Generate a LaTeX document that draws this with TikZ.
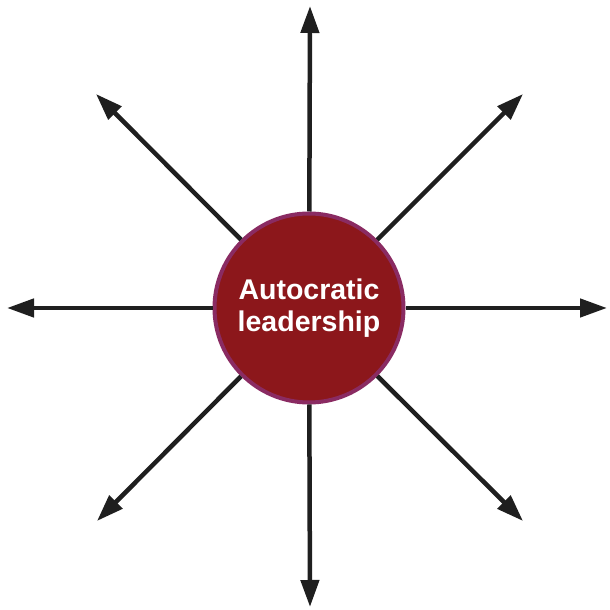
\documentclass[tikz,border=0pt]{standalone}
\usepackage{fontspec}
\setmainfont{Liberation Sans}
\usetikzlibrary{arrows.meta}
\definecolor{leadred}{HTML}{8C171B}
\definecolor{leadrim}{HTML}{8A2B62}
\tikzset{
  ray/.style={line width=4.5pt,color=black!88,-{Triangle[length=27pt,width=18pt]}},
  hub/.style={circle,draw=leadrim,line width=4pt,fill=leadred,minimum size=189pt,
    text=white,font=\fontsize{28.5}{32}\selectfont\bfseries,align=center,inner sep=0pt}
}
\begin{document}
\begin{tikzpicture}[x=1pt,y=1pt]
\useasboundingbox (0,0) rectangle (610,610);
% end points of the rays
\coordinate (n) at (310,604);
\coordinate (s) at (310,3);
\coordinate (w) at (7,302);
\coordinate (e) at (607,302);
\coordinate (nw) at (96,516);
\coordinate (ne) at (523,516);
\coordinate (sw) at (97,89);
\coordinate (se) at (523,89);
\node[hub] (lead) at (309,302) {Autocratic\\leadership};
\foreach \t in {n,s,w,e,nw,ne,sw,se}
  \draw[ray] (lead) -- (\t);
\end{tikzpicture}
\end{document}
